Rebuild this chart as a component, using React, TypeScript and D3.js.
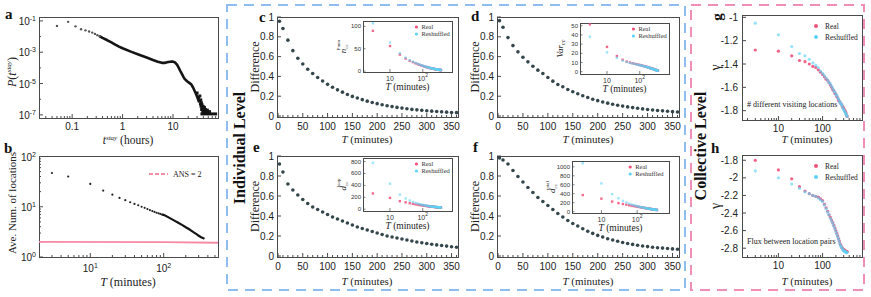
import * as d3 from "d3";

const SANS = "'Liberation Sans', Arial, sans-serif";
const SERIF = "'Liberation Serif', 'Times New Roman', serif";
const FRAME = "#4a4a4a";
const DOT = "#34464c";
const REAL = "#f2507a";
const RESH = "#5cd3f6";

// ---------- panel a: distribution of stay time (hours) ----------
const stayHeadHours = [0.05, 0.0833, 0.1167, 0.15, 0.1833, 0.2167, 0.25, 0.2833, 0.3167, 0.35];
const stayHeadProb = [0.048, 0.087, 0.045, 0.0295, 0.025, 0.021, 0.018, 0.0148, 0.0123, 0.0105];
const stayBodyHours = [0.35, 0.4, 0.5, 0.6, 0.7, 0.85, 1, 1.5, 2, 3, 4, 5, 6, 7, 8, 9, 10, 11, 12, 13, 14, 15, 16, 17, 19, 21, 23, 25, 27, 29, 31, 33];
const stayBodyProb = [1.05e-2, 8.3e-3, 5.8e-3, 4.2e-3, 3.2e-3, 2.3e-3, 1.8e-3, 1.05e-3, 7.4e-4, 4.6e-4, 3.2e-4, 2.5e-4, 2.1e-4, 2.1e-4, 2.35e-4, 2.5e-4, 2.5e-4, 2.2e-4, 1.6e-4, 1.0e-4, 6.3e-5, 4.2e-5, 2.8e-5, 2.0e-5, 1.4e-5, 1.1e-5, 8.9e-6, 5.6e-6, 3.2e-6, 1.9e-6, 1.1e-6, 6.3e-7];
const stayTailHours = [30, 32, 33.5, 34, 35, 35.5, 36, 36.5, 37, 37.5, 38, 39, 39.5, 40, 41, 42, 43, 44, 46, 48, 50, 53];
const stayTailProb = [2.5e-6, 1.3e-6, 8e-7, 1.6e-6, 5e-7, 9e-7, 3.5e-7, 6e-7, 2.2e-7, 4.5e-7, 3e-7, 1.6e-7, 3.5e-7, 2.2e-7, 1.6e-7, 3e-7, 1.7e-7, 2.2e-7, 1.5e-7, 2e-7, 1.4e-7, 1.6e-7];
const stayFloorHours = [35, 75];
const stayFloorProb = [1.15e-7, 1.15e-7];

// ---------- panel b: average number of locations ----------
const locSparseT = [3, 5, 10, 15, 20, 25, 30, 35, 40, 45, 50, 55, 60, 65, 70, 75, 80, 85, 90, 95];
const locSparseVal = [47, 40, 28.5, 21, 17.4, 15, 13.5, 12.3, 11.4, 10.7, 10, 9.5, 9.0, 8.6, 8.2, 7.9, 7.6, 7.4, 7.2, 7.0];
const locDenseT = [95, 100, 120, 140, 160, 180, 200, 220, 240, 260, 280, 300, 320, 340, 360];
const locDenseVal = [7.0, 6.9, 6.0, 5.3, 4.75, 4.3, 3.9, 3.6, 3.3, 3.05, 2.85, 2.65, 2.5, 2.4, 2.3];
const ansT = [2, 100, 550];
const ansVal = [2.0, 1.97, 1.92];

// ---------- c–h share the same aggregation windows ----------
const tMinutes = [3, 10, 20, 30, 40, 50, 60, 70, 80, 90, 100, 110, 120, 130, 140, 150, 160, 170, 180, 190, 200, 210, 220, 230, 240, 250, 260, 270, 280, 290, 300, 310, 320, 330, 340, 350, 360];

const diffPmin = [0.957, 0.884, 0.766, 0.66, 0.584, 0.525, 0.472, 0.429, 0.389, 0.353, 0.32, 0.29, 0.264, 0.241, 0.218, 0.198, 0.182, 0.165, 0.15, 0.137, 0.125, 0.114, 0.104, 0.095, 0.087, 0.08, 0.073, 0.067, 0.062, 0.057, 0.053, 0.049, 0.045, 0.042, 0.039, 0.036, 0.034];
const diffVar = [0.963, 0.896, 0.792, 0.711, 0.648, 0.594, 0.547, 0.503, 0.463, 0.43, 0.389, 0.352, 0.319, 0.295, 0.268, 0.245, 0.225, 0.205, 0.187, 0.17, 0.155, 0.142, 0.13, 0.119, 0.109, 0.1, 0.092, 0.085, 0.078, 0.072, 0.066, 0.061, 0.056, 0.052, 0.048, 0.044, 0.041];
const diffLoop = [0.92, 0.84, 0.72, 0.66, 0.61, 0.565, 0.525, 0.49, 0.465, 0.44, 0.415, 0.39, 0.37, 0.35, 0.33, 0.31, 0.29, 0.275, 0.26, 0.245, 0.23, 0.215, 0.2, 0.19, 0.18, 0.17, 0.16, 0.15, 0.14, 0.133, 0.125, 0.118, 0.111, 0.105, 0.099, 0.093, 0.088];
const diffTotal = [0.98, 0.96, 0.92, 0.855, 0.795, 0.74, 0.685, 0.635, 0.585, 0.545, 0.505, 0.465, 0.425, 0.39, 0.355, 0.325, 0.3, 0.272, 0.248, 0.226, 0.206, 0.19, 0.173, 0.16, 0.147, 0.135, 0.125, 0.116, 0.108, 0.1, 0.094, 0.088, 0.083, 0.079, 0.075, 0.071, 0.068];

const pminReal = [90, 56, 37, 28, 23, 20, 17.5, 15.5, 14, 12.7, 11.5, 10.5, 9.7, 9, 8.3, 7.7, 7.2, 6.7, 6.3, 5.9, 5.5, 5.2, 4.9, 4.6, 4.3, 4.1, 3.9, 3.7, 3.5, 3.3, 3.1, 3, 2.8, 2.7, 2.5, 2.4, 2.3];
const pminResh = [107, 64, 40, 30, 24.5, 21, 18.5, 16.3, 14.7, 13.3, 12.1, 11, 10.1, 9.3, 8.6, 8, 7.4, 6.9, 6.5, 6.1, 5.7, 5.4, 5.1, 4.8, 4.5, 4.3, 4, 3.8, 3.6, 3.4, 3.2, 3.1, 2.9, 2.8, 2.6, 2.5, 2.4];
const varReal = [51.5, 27, 17, 13, 11, 10, 9.2, 8.6, 8.1, 7.7, 7.3, 6.9, 6.5, 6.2, 5.9, 5.6, 5.3, 5, 4.7, 4.5, 4.2, 4, 3.7, 3.5, 3.3, 3.1, 2.9, 2.7, 2.5, 2.3, 2.1, 1.9, 1.7, 1.6, 1.4, 1.3, 1.1];
const varResh = [38, 21, 15, 12, 10.5, 9.5, 8.9, 8.4, 7.9, 7.5, 7.1, 6.7, 6.4, 6.1, 5.8, 5.5, 5.2, 4.9, 4.6, 4.4, 4.1, 3.9, 3.6, 3.4, 3.2, 3, 2.8, 2.6, 2.4, 2.2, 2, 1.8, 1.6, 1.5, 1.3, 1.2, 1];
const loopReal = [265, 190, 135, 115, 100, 90, 82, 76, 71, 67, 63, 60, 57, 54, 52, 50, 48, 46, 44.5, 43, 41.5, 40, 39, 38, 37, 36, 35, 34, 33, 32.5, 32, 31, 30.5, 30, 29.5, 29, 28.5];
const loopResh = [780, 430, 245, 180, 145, 122, 106, 94, 85, 78, 72, 67, 63, 59, 56, 53, 51, 49, 47, 45, 43.5, 42, 40.5, 39.5, 38.5, 37.5, 36.5, 35.5, 34.5, 33.5, 33, 32, 31.5, 31, 30.5, 30, 29.5];
const totalReal = [370, 290, 225, 190, 170, 155, 143, 133, 125, 118, 112, 106, 101, 96, 92, 88, 84, 80, 77, 74, 71, 68, 65, 62, 60, 57, 55, 53, 51, 49, 47, 45, 43, 41, 40, 38, 37];
const totalResh = [1080, 630, 390, 300, 240, 205, 180, 160, 145, 133, 122, 113, 106, 100, 94, 89, 85, 81, 77, 74, 71, 68, 65, 62, 60, 57, 55, 53, 51, 49, 47, 45, 43, 41, 40, 38, 37];

const gammaVisitReal = [-1.28, -1.29, -1.33, -1.37, -1.38, -1.4, -1.42, -1.43, -1.45, -1.47, -1.49, -1.51, -1.53, -1.54, -1.56, -1.58, -1.6, -1.62, -1.63, -1.65, -1.66, -1.68, -1.69, -1.71, -1.72, -1.73, -1.74, -1.75, -1.76, -1.77, -1.78, -1.79, -1.8, -1.81, -1.82, -1.84, -1.85];
const gammaVisitResh = [-1.05, -1.15, -1.25, -1.31, -1.33, -1.36, -1.39, -1.41, -1.43, -1.46, -1.48, -1.5, -1.52, -1.54, -1.56, -1.57, -1.59, -1.61, -1.63, -1.64, -1.66, -1.67, -1.69, -1.7, -1.72, -1.73, -1.74, -1.75, -1.76, -1.78, -1.79, -1.8, -1.81, -1.82, -1.83, -1.84, -1.85];
const gammaFluxReal = [-1.8, -1.91, -2.01, -2.1, -2.15, -2.18, -2.2, -2.21, -2.22, -2.24, -2.26, -2.3, -2.34, -2.38, -2.42, -2.45, -2.48, -2.51, -2.54, -2.57, -2.6, -2.63, -2.66, -2.69, -2.72, -2.75, -2.77, -2.79, -2.8, -2.81, -2.82, -2.82, -2.83, -2.83, -2.84, -2.84, -2.84];
const gammaFluxResh = [-1.92, -2, -2.07, -2.12, -2.16, -2.18, -2.2, -2.21, -2.23, -2.25, -2.27, -2.31, -2.35, -2.39, -2.42, -2.46, -2.49, -2.52, -2.55, -2.58, -2.61, -2.64, -2.67, -2.7, -2.73, -2.76, -2.78, -2.79, -2.81, -2.82, -2.83, -2.83, -2.84, -2.84, -2.85, -2.85, -2.85];

const diffXTicks = [0, 50, 100, 150, 200, 250, 300, 350];
const diffYTicks = [0, 0.2, 0.4, 0.6, 0.8, 1];
const gammaVisitTicks = [-1, -1.2, -1.4, -1.6, -1.8];
const gammaFluxTicks = [-1.8, -2, -2.2, -2.4, -2.6, -2.8];

function Sup({ base, exp, size = 7 }: { base: string; exp: string; size?: number }) {
  return (
    <>
      {base}
      <tspan dy={-4} fontSize={size}>{exp}</tspan>
    </>
  );
}

function TMinutes({ x, y, size = 11 }: { x: number; y: number; size?: number }) {
  return (
    <text x={x} y={y} textAnchor="middle" fontFamily={SERIF} fontSize={size} fill="#222">
      <tspan fontStyle="italic">T</tspan> (minutes)
    </text>
  );
}

function Frame({ x, y, w, h }: { x: number; y: number; w: number; h: number }) {
  return <rect x={x + 0.5} y={y + 0.5} width={w} height={h} fill="#fff" stroke={FRAME} strokeWidth={1} />;
}

function DiffPanel({ x0, y0, w, h, values }: { x0: number; y0: number; w: number; h: number; values: number[] }) {
  const x = d3.scaleLinear().domain([-2, 363]).range([x0, x0 + w]);
  const y = d3.scaleLinear().domain([-0.01, 1]).range([y0 + h, y0]);
  const minor = d3.range(0, 361, 10);
  return (
    <g>
      <Frame x={x0} y={y0} w={w} h={h} />
      {minor.map((t) => (
        <line key={"m" + t} x1={x(t)} x2={x(t)} y1={y0 + h} y2={y0 + h - (t % 50 === 0 ? 4 : 2)} stroke={FRAME} />
      ))}
      {diffYTicks.map((v) => (
        <g key={"y" + v}>
          <line x1={x0} x2={x0 + 4} y1={y(v)} y2={y(v)} stroke={FRAME} />
          <text x={x0 - 3} y={y(v) + 3.5} textAnchor="end" fontFamily={SANS} fontSize={10} fill="#222">
            {v}
          </text>
        </g>
      ))}
      {diffXTicks.map((t) => (
        <text key={"x" + t} x={x(t)} y={y0 + h + 13} textAnchor="middle" fontFamily={SANS} fontSize={10} fill="#222">
          {t}
        </text>
      ))}
      {values.map((v, i) => (
        <circle key={i} cx={x(tMinutes[i])} cy={y(v)} r={1.8} fill={DOT} />
      ))}
      <text
        transform={`translate(${x0 - 18},${y0 + h / 2}) rotate(-90)`}
        textAnchor="middle"
        fontFamily={SERIF}
        fontSize={12}
        fill="#222"
      >
        Difference
      </text>
    </g>
  );
}

interface InsetProps {
  x0: number;
  y0: number;
  w: number;
  h: number;
  yDomain: [number, number];
  yTicks: number[];
  real: number[];
  resh: number[];
  label: React.ReactNode;
}

function Inset({ x0, y0, w, h, yDomain, yTicks, real, resh, label }: InsetProps) {
  const x = d3.scaleLog().domain([1.5, 780]).range([x0, x0 + w]);
  const y = d3.scaleLinear().domain(yDomain).range([y0 + h, y0]);
  const lx = x0 + w * 0.6;
  return (
    <g>
      <Frame x={x0} y={y0} w={w} h={h} />
      {yTicks.map((v) => (
        <g key={v}>
          <line x1={x0} x2={x0 + 2.5} y1={y(v)} y2={y(v)} stroke={FRAME} strokeWidth={0.7} />
          <text x={x0 - 2} y={y(v) + 2} textAnchor="end" fontFamily={SANS} fontSize={6} fill="#333">
            {v}
          </text>
        </g>
      ))}
      {[10, 100].map((t) => (
        <g key={t}>
          <line x1={x(t)} x2={x(t)} y1={y0 + h} y2={y0 + h - 3} stroke={FRAME} strokeWidth={0.7} />
          <text x={x(t)} y={y0 + h + 9} textAnchor="middle" fontFamily={SANS} fontSize={7} fill="#333">
            {t === 10 ? "10" : <Sup base="10" exp="2" size={5} />}
          </text>
        </g>
      ))}
      {real.map((v, i) => (
        <rect key={"r" + i} x={x(tMinutes[i]) - 1.2} y={y(v) - 1.2} width={2.4} height={2.4} fill={REAL} opacity={0.85} />
      ))}
      {resh.map((v, i) => (
        <rect key={"s" + i} x={x(tMinutes[i]) - 1.2} y={y(v) - 1.2} width={2.4} height={2.4} fill={RESH} opacity={0.6} />
      ))}
      <circle cx={lx} cy={y0 + 6} r={1.6} fill={REAL} />
      <text x={lx + 5} y={y0 + 8} fontFamily={SERIF} fontSize={6.5} fill="#333">Real</text>
      <circle cx={lx} cy={y0 + 13} r={1.6} fill={RESH} />
      <text x={lx + 5} y={y0 + 15} fontFamily={SERIF} fontSize={6.5} fill="#333">Reshuffled</text>
      <text
        transform={`translate(${x0 - 17},${y0 + h / 2}) rotate(-90)`}
        textAnchor="middle"
        fontFamily={SERIF}
        fontSize={9}
        fill="#222"
      >
        {label}
      </text>
      <TMinutes x={x0 + w / 2} y={y0 + h + 18} size={9.5} />
    </g>
  );
}

interface GammaProps {
  x0: number;
  y0: number;
  w: number;
  h: number;
  yDomain: [number, number];
  yTicks: number[];
  real: number[];
  resh: number[];
  note: string;
}

function GammaPanel({ x0, y0, w, h, yDomain, yTicks, real, resh, note }: GammaProps) {
  const x = d3.scaleLog().domain([1.5, 780]).range([x0, x0 + w]);
  const y = d3.scaleLinear().domain(yDomain).range([y0 + h, y0]);
  const minor = [2, 3, 4, 5, 6, 7, 8, 9, 20, 30, 40, 50, 60, 70, 80, 90, 200, 300, 400, 500, 600, 700];
  return (
    <g>
      <Frame x={x0} y={y0} w={w} h={h} />
      {minor.map((t) => (
        <line key={"m" + t} x1={x(t)} x2={x(t)} y1={y0 + h} y2={y0 + h - 2} stroke={FRAME} />
      ))}
      {[10, 100].map((t) => (
        <g key={t}>
          <line x1={x(t)} x2={x(t)} y1={y0 + h} y2={y0 + h - 4} stroke={FRAME} />
          <text x={x(t)} y={y0 + h + 12} textAnchor="middle" fontFamily={SANS} fontSize={10} fill="#222">
            {t}
          </text>
        </g>
      ))}
      {yTicks.map((v) => (
        <g key={v}>
          <line x1={x0} x2={x0 + 4} y1={y(v)} y2={y(v)} stroke={FRAME} />
          <text x={x0 - 4} y={y(v) + 3.5} textAnchor="end" fontFamily={SANS} fontSize={10} fill="#222">
            {v}
          </text>
        </g>
      ))}
      {real.map((v, i) => (
        <circle key={"r" + i} cx={x(tMinutes[i])} cy={y(v)} r={1.6} fill={REAL} opacity={0.9} />
      ))}
      {resh.map((v, i) => (
        <circle key={"s" + i} cx={x(tMinutes[i])} cy={y(v)} r={1.6} fill={RESH} opacity={0.65} />
      ))}
      <circle cx={x0 + 74} cy={y0 + 11} r={2} fill={REAL} />
      <text x={x0 + 83} y={y0 + 14} fontFamily={SERIF} fontSize={7.5} fill="#222">Real</text>
      <circle cx={x0 + 74} cy={y0 + 22} r={2} fill={RESH} />
      <text x={x0 + 83} y={y0 + 25} fontFamily={SERIF} fontSize={7.5} fill="#222">Reshuffled</text>
      <text x={x0 + 5} y={y0 + h - 13} fontFamily={SERIF} fontSize={8} fill="#222">{note}</text>
      <text
        transform={`translate(${x0 - 22},${y0 + h / 2}) rotate(-90)`}
        textAnchor="middle"
        fontFamily={SERIF}
        fontSize={14}
        fill="#222"
      >
        γ
      </text>
    </g>
  );
}

function PanelA() {
  const x0 = 39, x1 = 218, y0 = 17, y1 = 118;
  const x = d3.scaleLog().domain([0.022, 78]).range([x0, x1]);
  const y = d3.scaleLog().domain([10 ** -7.2, 10 ** -0.75]).range([y1, y0]);
  const body = d3.line<number>().x((h) => x(h)).y((_, i) => y(stayBodyProb[i]));
  const floor = d3.line<number>().x((h) => x(h)).y((_, i) => y(stayFloorProb[i]));
  const decades = [-7, -6, -5, -4, -3, -2, -1];
  const xMinor = [0.03, 0.04, 0.05, 0.06, 0.07, 0.08, 0.09, 0.2, 0.3, 0.4, 0.5, 0.6, 0.7, 0.8, 0.9, 2, 3, 4, 5, 6, 7, 8, 9, 20, 30, 40, 50, 60, 70];
  return (
    <g>
      <Frame x={x0} y={y0} w={x1 - x0} h={y1 - y0} />
      {xMinor.map((t) => (
        <line key={t} x1={x(t)} x2={x(t)} y1={y1} y2={y1 - 2} stroke={FRAME} />
      ))}
      {[0.1, 1, 10].map((t) => (
        <g key={t}>
          <line x1={x(t)} x2={x(t)} y1={y1} y2={y1 - 4} stroke={FRAME} />
          <text x={x(t)} y={y1 + 12} textAnchor="middle" fontFamily={SANS} fontSize={10} fill="#222">
            {t}
          </text>
        </g>
      ))}
      {decades.map((d) => (
        <g key={d}>
          <line x1={x0} x2={x0 + (d % 2 ? 4 : 2)} y1={y(10 ** d)} y2={y(10 ** d)} stroke={FRAME} />
          {d % 2 !== 0 && (
            <text x={x0 - 3} y={y(10 ** d) + 4} textAnchor="end" fontFamily={SANS} fontSize={10} fill="#222">
              <Sup base="10" exp={String(d)} />
            </text>
          )}
        </g>
      ))}
      <path d={body(stayBodyHours) || ""} fill="none" stroke="#151515" strokeWidth={2.6} strokeLinejoin="round" />
      <path d={floor(stayFloorHours) || ""} fill="none" stroke="#151515" strokeWidth={3} />
      {stayHeadHours.map((h, i) => (
        <circle key={"h" + i} cx={x(h)} cy={y(stayHeadProb[i])} r={1.2} fill="#555" />
      ))}
      {stayTailHours.map((h, i) => (
        <rect key={"t" + i} x={x(h) - 1.5} y={y(stayTailProb[i]) - 1.5} width={3} height={3} fill="#151515" />
      ))}
      <text transform={`translate(16,72) rotate(-90)`} textAnchor="middle" fontFamily={SERIF} fontSize={12} fill="#222">
        <tspan fontStyle="italic">P</tspan>(<tspan fontStyle="italic">t</tspan>
        <tspan dy={-5} fontSize={7} fontStyle="italic">stay</tspan>
        <tspan dy={5}>)</tspan>
      </text>
      <text x={128} y={144} textAnchor="middle" fontFamily={SERIF} fontSize={11.5} fill="#222">
        <tspan fontStyle="italic">t</tspan>
        <tspan dy={-4} fontSize={7} fontStyle="italic">stay</tspan>
        <tspan dy={4}> (hours)</tspan>
      </text>
    </g>
  );
}

function PanelB() {
  const x0 = 39, x1 = 218, y0 = 156, y1 = 257;
  const x = d3.scaleLog().domain([2, 550]).range([x0, x1]);
  const y = d3.scaleLog().domain([1, 100]).range([y1, y0 + 0.5]);
  const dense = d3.line<number>().x((t) => x(t)).y((_, i) => y(locDenseVal[i]));
  const ans = d3.line<number>().x((t) => x(t)).y((_, i) => y(ansVal[i]));
  const xMinor = [3, 4, 5, 6, 7, 8, 9, 20, 30, 40, 50, 60, 70, 80, 90, 200, 300, 400, 500];
  const yMinor = [2, 3, 4, 5, 6, 7, 8, 9, 20, 30, 40, 50, 60, 70, 80, 90];
  return (
    <g>
      <Frame x={x0} y={y0} w={x1 - x0} h={y1 - y0} />
      {xMinor.map((t) => (
        <line key={t} x1={x(t)} x2={x(t)} y1={y1} y2={y1 - 2} stroke={FRAME} />
      ))}
      {yMinor.map((v) => (
        <line key={v} x1={x0} x2={x0 + 2} y1={y(v)} y2={y(v)} stroke={FRAME} />
      ))}
      {[10, 100].map((t, i) => (
        <g key={t}>
          <line x1={x(t)} x2={x(t)} y1={y1} y2={y1 - 4} stroke={FRAME} />
          <text x={x(t)} y={y1 + 15} textAnchor="middle" fontFamily={SANS} fontSize={10} fill="#222">
            <Sup base="10" exp={String(i + 1)} />
          </text>
        </g>
      ))}
      {[1, 10, 100].map((v, i) => (
        <g key={v}>
          <line x1={x0} x2={x0 + 4} y1={y(v)} y2={y(v)} stroke={FRAME} />
          <text x={x0 - 3} y={y(v) + 4} textAnchor="end" fontFamily={SANS} fontSize={10} fill="#222">
            <Sup base="10" exp={String(i)} />
          </text>
        </g>
      ))}
      <path d={ans(ansT) || ""} fill="none" stroke="#f48aa4" strokeWidth={1.8} />
      <path d={dense(locDenseT) || ""} fill="none" stroke="#151515" strokeWidth={2.2} />
      {locSparseT.map((t, i) => (
        <circle key={t} cx={x(t)} cy={y(locSparseVal[i])} r={1.1} fill="#222" />
      ))}
      <line x1={149} x2={168} y1={174} y2={174} stroke="#f06a8c" strokeWidth={1.4} strokeDasharray="4,2" />
      <text x={173} y={177} fontFamily={SERIF} fontSize={8} fill="#222">ANS = 2</text>
      <text transform={`translate(16,203) rotate(-90)`} textAnchor="middle" fontFamily={SERIF} fontSize={11} fill="#222">
        Ave. Num. of locations
      </text>
      <TMinutes x={128} y={286} size={12} />
    </g>
  );
}

export default function App() {
  return (
    <div style={{ position: "absolute", left: 0, top: 0 }}>
      <svg width={871} height={297} style={{ display: "block", background: "#fff" }}>
        <rect x={227} y={5} width={458} height={285} fill="none" stroke="#8fbdf0" strokeWidth={2} strokeDasharray="10,7" />
        <rect x={691} y={5} width={173} height={285} fill="none" stroke="#ef8fb8" strokeWidth={2} strokeDasharray="10,7" />

        <PanelA />
        <PanelB />

        <DiffPanel x0={277} y0={17} w={181} h={100} values={diffPmin} />
        <DiffPanel x0={497} y0={17} w={182} h={100} values={diffVar} />
        <DiffPanel x0={277} y0={156} w={181} h={101} values={diffLoop} />
        <DiffPanel x0={497} y0={156} w={182} h={101} values={diffTotal} />
        <TMinutes x={367} y={143} />
        <TMinutes x={588} y={143} />
        <TMinutes x={367} y={285} />
        <TMinutes x={588} y={285} />

        <Inset
          x0={363} y0={21} w={89} h={51} yDomain={[-2, 112]} yTicks={[0, 50, 100]}
          real={pminReal} resh={pminResh}
          label={<><tspan fontStyle="italic">n</tspan><tspan dy={2} fontSize={5}>cc</tspan><tspan dx={-6} dy={-8} fontSize={5}>Pmin</tspan></>}
        />
        <Inset
          x0={580} y0={23} w={89} h={51} yDomain={[-2.5, 53]} yTicks={[0, 10, 20, 30, 40, 50]}
          real={varReal} resh={varResh}
          label={<><tspan fontStyle="italic">Var</tspan><tspan dy={2} fontSize={6}>cc</tspan></>}
        />
        <Inset
          x0={363} y0={158} w={89} h={53} yDomain={[-30, 860]} yTicks={[0, 200, 400, 600, 800]}
          real={loopReal} resh={loopResh}
          label={<><tspan fontStyle="italic">d</tspan><tspan dy={2} fontSize={5}>cc</tspan><tspan dx={-6} dy={-8} fontSize={5}>loop</tspan></>}
        />
        <Inset
          x0={572} y0={161} w={97} h={52} yDomain={[-30, 1130]} yTicks={[0, 200, 400, 600, 800, 1000]}
          real={totalReal} resh={totalResh}
          label={<><tspan fontStyle="italic">d</tspan><tspan dy={2} fontSize={5}>cc</tspan><tspan dx={-6} dy={-8} fontSize={5}>total</tspan></>}
        />

        <GammaPanel
          x0={742} y0={15} w={120} h={105} yDomain={[-1.88, -0.98]} yTicks={gammaVisitTicks}
          real={gammaVisitReal} resh={gammaVisitResh} note="# different visiting locations"
        />
        <GammaPanel
          x0={742} y0={155} w={120} h={102} yDomain={[-2.9, -1.74]} yTicks={gammaFluxTicks}
          real={gammaFluxReal} resh={gammaFluxResh} note="Flux between location pairs"
        />
        <TMinutes x={807} y={143} />
        <TMinutes x={807} y={285} />

        <text transform="translate(245,148) rotate(-90)" textAnchor="middle" fontFamily={SERIF} fontWeight="bold" fontSize={16} fill="#111">
          Individual Level
        </text>
        <text transform="translate(706,146) rotate(-90)" textAnchor="middle" fontFamily={SERIF} fontWeight="bold" fontSize={16} fill="#111">
          Collective Level
        </text>

        <g fontFamily={SERIF} fontWeight="bold" fontSize={15} fill="#111">
          <text x={5} y={19}>a</text>
          <text x={4} y={153}>b</text>
          <text x={259} y={22}>c</text>
          <text x={471} y={21}>d</text>
          <text x={253} y={152}>e</text>
          <text x={473} y={152}>f</text>
          <text transform="translate(722,17) rotate(-90)" textAnchor="middle">g</text>
          <text x={711} y={153}>h</text>
        </g>
      </svg>
    </div>
  );
}
